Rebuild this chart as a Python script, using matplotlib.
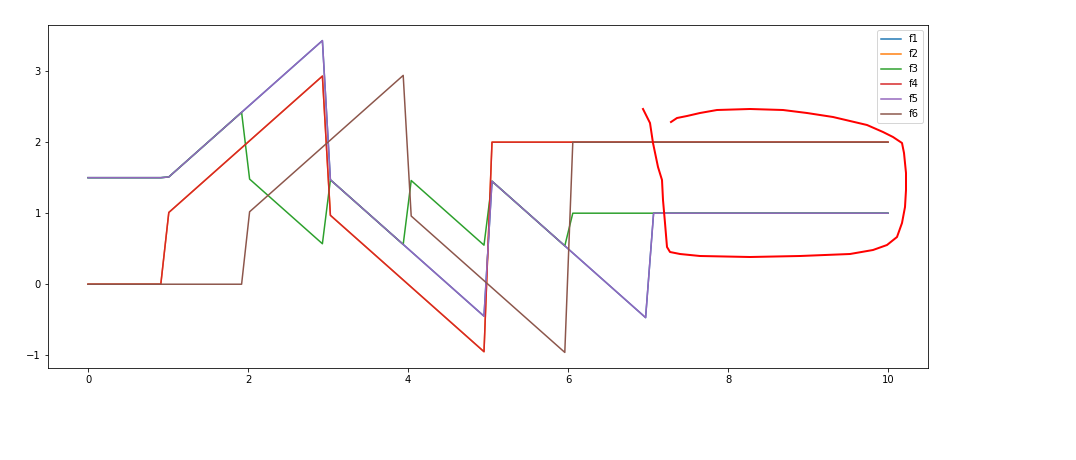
import matplotlib
matplotlib.use("Agg")
import matplotlib.pyplot as plt
from matplotlib.lines import Line2D

# breakpoints of each piecewise-linear curve
f4_x = [0, 0.91, 1.01, 2.93, 3.03, 4.95, 5.05, 10]
f4_y = [0, 0, 1.01, 2.93, 0.97, -0.95, 2.0, 2.0]

f6_x = [0, 1.92, 2.02, 3.94, 4.04, 5.96, 6.06, 10]
f6_y = [0, 0, 1.02, 2.94, 0.96, -0.96, 2.0, 2.0]

f5_x = [0, 0.91, 1.01, 2.93, 3.03, 4.95, 5.05, 6.97, 7.07, 10]
f5_y = [1.5, 1.5, 1.51, 3.43, 1.47, -0.45, 1.45, -0.47, 1.0, 1.0]

f3_x = [0, 0.91, 1.01, 1.92, 2.02, 2.93, 3.03, 3.94, 4.04, 4.95, 5.05, 5.96, 6.06, 10]
f3_y = [1.5, 1.5, 1.51, 2.42, 1.48, 0.57, 1.47, 0.56, 1.46, 0.55, 1.45, 0.54, 1.0, 1.0]

# f1 and f2 are hidden under f5 and f4
f1_x, f1_y = f5_x, f5_y
f2_x, f2_y = f4_x, f4_y

# hand-drawn red loop on the screenshot (pixel coords from top-left)
ann_px = [643, 650, 653, 658, 662, 663, 665, 667, 670, 680, 700, 750, 800, 850, 873, 887,
          897, 902, 905, 906, 906, 904, 902, 893, 883, 867, 850, 833, 807, 783, 750, 717,
          700, 687, 677, 671]
ann_py = [109, 123, 143, 167, 180, 200, 223, 247, 252, 254, 256, 257, 256, 254, 250, 245,
          237, 223, 207, 190, 173, 153, 143, 137, 132, 125, 121, 117, 113, 110, 109, 110,
          113, 116, 118, 122]

W, H = 1076, 460
fig = plt.figure(figsize=(W / 72, H / 72), dpi=72)
ax = fig.add_axes([48 / W, 1 - 368 / H, 880 / W, 343 / H])

ax.plot(f1_x, f1_y, label="f1")
ax.plot(f2_x, f2_y, label="f2")
ax.plot(f3_x, f3_y, label="f3")
ax.plot(f4_x, f4_y, label="f4")
ax.plot(f5_x, f5_y, label="f5")
ax.plot(f6_x, f6_y, label="f6")
ax.legend(loc="upper right")

fig.add_artist(Line2D([x / W for x in ann_px], [1 - y / H for y in ann_py],
                      transform=fig.transFigure, color="red", lw=2))

fig.savefig("out.png", dpi=72)
